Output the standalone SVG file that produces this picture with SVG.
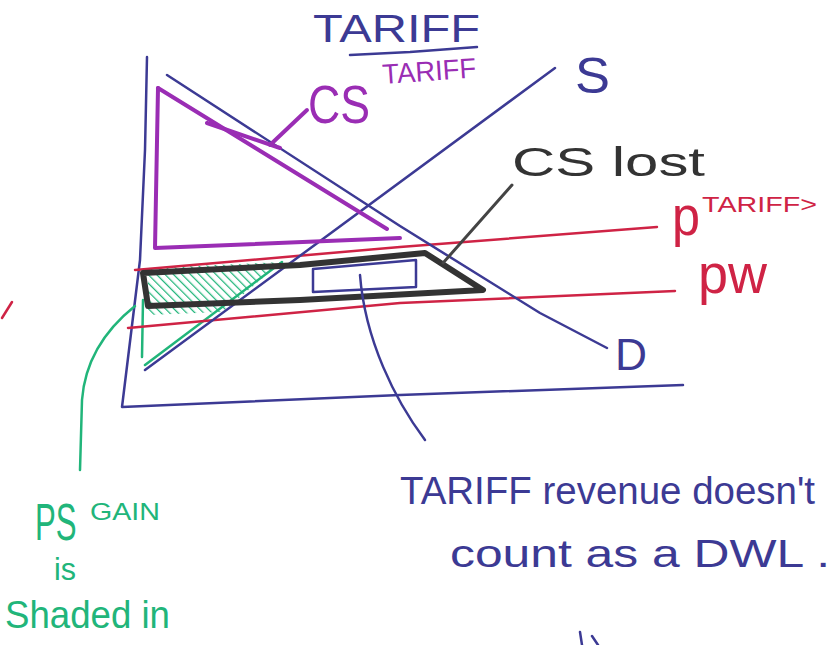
<svg xmlns="http://www.w3.org/2000/svg" width="833" height="645" viewBox="0 0 833 645">
<style>
.blue{stroke:#3c3a94;fill:none;stroke-width:2.5;stroke-linecap:round;stroke-linejoin:round}
.purple{stroke:#9a2db4;fill:none;stroke-width:4;stroke-linecap:round;stroke-linejoin:round}
.red{stroke:#cf2345;fill:none;stroke-width:2.5;stroke-linecap:round}
.black{stroke:#333;fill:none;stroke-width:6;stroke-linecap:round;stroke-linejoin:round}
.green{stroke:#21b57a;fill:none;stroke-width:2.5;stroke-linecap:round;stroke-linejoin:round}
.grey{stroke:#444;fill:none;stroke-width:3;stroke-linecap:round}
text{font-family:"Liberation Sans",Arial,sans-serif}
.tb{fill:#3c3a94}.tp{fill:#9a2db4}.tr{fill:#cf2345}.tk{fill:#333}.tg{fill:#21b57a}
</style>
<defs>
<pattern id="hatch" width="6" height="6" patternUnits="userSpaceOnUse" patternTransform="rotate(-45)">
<line x1="0" y1="0" x2="0" y2="6" stroke="#21b57a" stroke-width="2.5"/>
</pattern>
</defs>
<rect width="833" height="645" fill="#fff"/>

<g id="title">
<text class="tb" x="313" y="42" font-size="38" textLength="167" lengthAdjust="spacingAndGlyphs">TARIFF</text>
<path class="blue" d="M350 55 L410 52 L477 47"/>
</g>

<g id="axes">
<path class="blue" d="M147 57 L145 150 L140 260 L122 407 L400 395 L683 385"/>
</g>

<g id="ps-gain-area">
<polygon points="148,268 282,262 222,312 148,315" fill="url(#hatch)"/>
<path class="green" d="M143 300 L142 357"/>
<path class="green" d="M145 365 L282 262"/>
</g>

<g id="price-lines">
<path class="red" d="M135 270 L400 247 L657 227"/>
<path class="red" d="M128 328 L400 303 L675 291"/>
</g>

<g id="supply">
<path class="blue" d="M145 370 L555 68"/>
<text class="tb" x="575" y="93" font-size="50" textLength="35" lengthAdjust="spacingAndGlyphs">S</text>
</g>

<g id="demand">
<path class="blue" d="M167 75 L400 226 L540 313 L607 348"/>
<text class="tb" x="615" y="370" font-size="44" textLength="32" lengthAdjust="spacingAndGlyphs">D</text>
</g>

<g id="cs-tariff">
<path class="purple" d="M158 88 L155 248 L400 238"/>
<path class="purple" d="M158 88 L387 229"/>
<path class="purple" d="M207 123 L280 148"/>
<text class="tp" x="308" y="123" font-size="54" textLength="62" lengthAdjust="spacingAndGlyphs">CS</text>
<text class="tp" x="383" y="84" font-size="28" textLength="94" lengthAdjust="spacingAndGlyphs" transform="rotate(-4 383 84)">TARIFF</text>
</g>

<g id="cs-lost">
<path class="black" d="M143 273 L300 265 L425 253 L483 290 L300 300 L148 306 Z"/>
<text class="tk" x="512" y="176" font-size="40" textLength="193" lengthAdjust="spacingAndGlyphs">CS lost</text>
</g>

<g id="tariff-revenue">
<path class="blue" d="M313 269 L416 260 L416 287 L313 292 Z"/>
<text class="tb" x="400" y="504" font-size="38" textLength="415" lengthAdjust="spacingAndGlyphs">TARIFF revenue doesn't</text>
<text class="tb" x="450" y="567" font-size="38" textLength="380" lengthAdjust="spacingAndGlyphs">count as a DWL .</text>
</g>

<g id="price-labels">
<text class="tr" x="672" y="235" font-size="56" textLength="28" lengthAdjust="spacingAndGlyphs">p</text>
<text class="tr" x="702" y="212" font-size="22" textLength="115" lengthAdjust="spacingAndGlyphs">TARIFF&gt;</text>
<text class="tr" x="698" y="293" font-size="56" textLength="69" lengthAdjust="spacingAndGlyphs">pw</text>
</g>

<g id="ps-gain-label">
<text class="tg" font-size="52" transform="translate(35 540) scale(0.6 1)">PS</text>
<text class="tg" x="90" y="520" font-size="24" textLength="70" lengthAdjust="spacingAndGlyphs">GAIN</text>
<text class="tg" x="54" y="580" font-size="32" textLength="22" lengthAdjust="spacingAndGlyphs">is</text>
<text class="tg" x="5" y="628" font-size="38" textLength="165" lengthAdjust="spacingAndGlyphs">Shaded in</text>
</g>

<g id="connectors">
<path class="purple" d="M270 145 L307 110" stroke-width="3"/>
<path class="grey" d="M512 185 L443 263"/>
<path class="blue" d="M360 275 C365 340 395 400 425 440"/>
<path class="green" d="M135 306 C105 330 85 360 82 400 L80 470"/>
</g>

<g id="marks">
<path class="red" d="M2 318 L12 302"/>
<path class="blue" d="M580 632 L582 645 M592 636 L598 645"/>
</g>
</svg>
